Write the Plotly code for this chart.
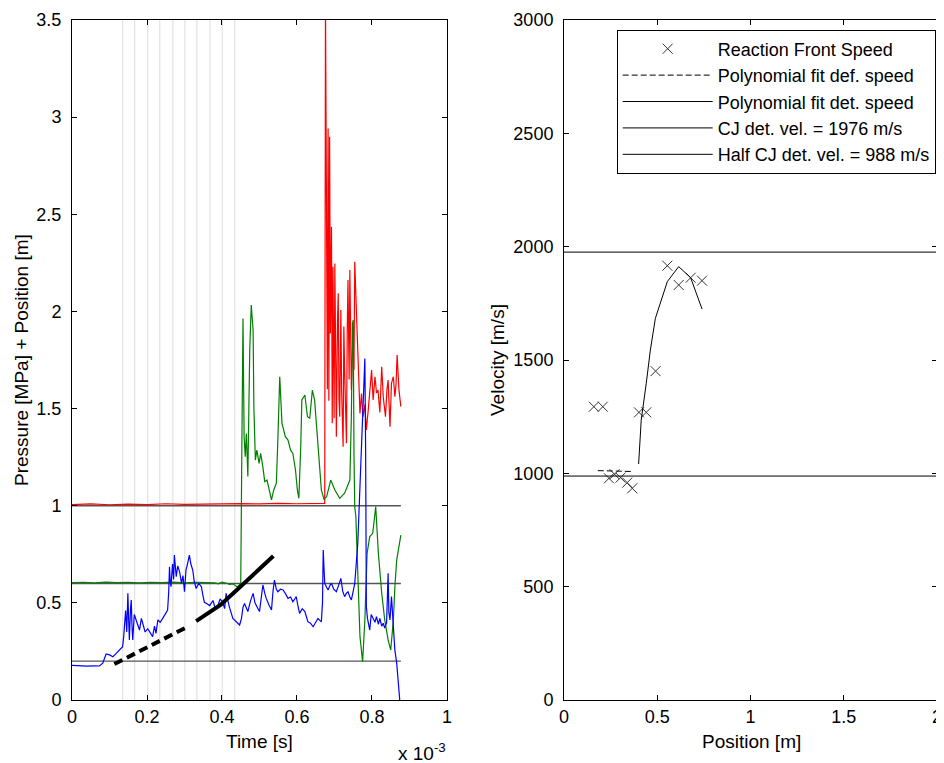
import plotly.graph_objects as go

# ---------------- data (left panel: time in units of 1e-3 s) ----------------
sensor_times = [0.135, 0.167, 0.202, 0.234, 0.269, 0.301, 0.333, 0.368, 0.401, 0.434]
offsets = [0.2, 0.6, 1.0]
t_end = 0.877

blue_t = [0, 0.02, 0.04, 0.06, 0.073, 0.082, 0.091, 0.100, 0.109, 0.118,
          0.126, 0.135, 0.138, 0.140, 0.143, 0.146, 0.149, 0.151, 0.153, 0.156,
          0.158, 0.160, 0.162, 0.166, 0.171, 0.176, 0.180, 0.185, 0.189, 0.195,
          0.202, 0.208, 0.215, 0.220, 0.224, 0.229, 0.235, 0.242, 0.248, 0.255,
          0.258, 0.260, 0.262, 0.264, 0.268, 0.271, 0.273, 0.275, 0.278, 0.282,
          0.287, 0.292, 0.296, 0.300, 0.304, 0.308, 0.313, 0.317, 0.322, 0.326,
          0.331, 0.338, 0.345, 0.349, 0.353, 0.360, 0.367, 0.376, 0.382, 0.389,
          0.395, 0.402, 0.407, 0.411, 0.416, 0.420, 0.429, 0.438, 0.447, 0.452,
          0.456, 0.460, 0.465, 0.469, 0.476, 0.483, 0.488, 0.492, 0.496, 0.500,
          0.505, 0.509, 0.514, 0.518, 0.525, 0.532, 0.536, 0.540, 0.545, 0.549,
          0.556, 0.563, 0.570, 0.576, 0.583, 0.589, 0.594, 0.598, 0.603, 0.607,
          0.614, 0.621, 0.625, 0.629, 0.636, 0.643, 0.650, 0.656, 0.661, 0.665,
          0.668, 0.670, 0.672, 0.674, 0.679, 0.683, 0.688, 0.692, 0.698, 0.705,
          0.711, 0.717, 0.722, 0.727, 0.732, 0.736, 0.741, 0.745, 0.750, 0.754,
          0.758, 0.762, 0.766, 0.770, 0.774, 0.778, 0.781, 0.783, 0.785, 0.788,
          0.791, 0.794, 0.798, 0.803, 0.808, 0.812, 0.817, 0.821, 0.826, 0.830,
          0.834, 0.839, 0.843, 0.845, 0.848, 0.852, 0.855, 0.857, 0.861, 0.866,
          0.870, 0.874]
blue_p = [0.178, 0.176, 0.174, 0.176, 0.175, 0.190, 0.237, 0.232, 0.223, 0.240,
          0.257, 0.274, 0.330, 0.395, 0.460, 0.350, 0.549, 0.420, 0.309, 0.470,
          0.515, 0.380, 0.309, 0.440, 0.412, 0.380, 0.360, 0.420, 0.395, 0.350,
          0.367, 0.345, 0.326, 0.380, 0.343, 0.412, 0.400, 0.420, 0.440, 0.463,
          0.560, 0.686, 0.610, 0.583, 0.700, 0.620, 0.746, 0.680, 0.635, 0.690,
          0.660, 0.600, 0.640, 0.557, 0.669, 0.700, 0.746, 0.700, 0.669, 0.610,
          0.574, 0.600, 0.583, 0.540, 0.503, 0.495, 0.486, 0.512, 0.470, 0.486,
          0.520, 0.503, 0.470, 0.549, 0.500, 0.477, 0.420, 0.403, 0.386, 0.420,
          0.477, 0.497, 0.470, 0.455, 0.510, 0.549, 0.500, 0.480, 0.470, 0.455,
          0.520, 0.592, 0.550, 0.523, 0.490, 0.463, 0.560, 0.617, 0.570, 0.557,
          0.570, 0.566, 0.545, 0.523, 0.530, 0.506, 0.520, 0.532, 0.480, 0.446,
          0.470, 0.455, 0.430, 0.403, 0.395, 0.377, 0.400, 0.420, 0.410, 0.403,
          0.500, 0.772, 0.680, 0.600, 0.580, 0.566, 0.590, 0.600, 0.570, 0.557,
          0.590, 0.626, 0.560, 0.532, 0.550, 0.557, 0.530, 0.515, 0.560, 0.600,
          0.700, 0.800, 1.000, 1.200, 1.400, 1.600, 1.758, 1.300, 0.480, 0.420,
          0.380, 0.360, 0.440, 0.420, 0.400, 0.429, 0.390, 0.420, 0.380, 0.395,
          0.370, 0.400, 0.652, 0.450, 0.412, 0.532, 0.420, 0.343, 0.257, 0.189,
          0.100, 0.000]

green_t = [0, 0.03, 0.06, 0.09, 0.12, 0.15, 0.18, 0.21, 0.24, 0.27,
           0.30, 0.33, 0.36, 0.38, 0.39, 0.40, 0.41, 0.42, 0.43, 0.44,
           0.445, 0.450, 0.453, 0.456, 0.459, 0.462, 0.465, 0.469, 0.474, 0.478,
           0.483, 0.485, 0.489, 0.493, 0.499, 0.503, 0.509, 0.514, 0.520, 0.525,
           0.532, 0.538, 0.545, 0.549, 0.554, 0.560, 0.569, 0.576, 0.583, 0.589,
           0.596, 0.601, 0.605, 0.610, 0.613, 0.621, 0.628, 0.634, 0.641, 0.647,
           0.656, 0.665, 0.672, 0.679, 0.690, 0.701, 0.714, 0.727, 0.741, 0.745,
           0.748, 0.750, 0.752, 0.754, 0.757, 0.762, 0.768, 0.775, 0.781, 0.787,
           0.794, 0.802, 0.810, 0.817, 0.826, 0.834, 0.843, 0.850, 0.857, 0.861,
           0.866, 0.877]
green_p = [0.604, 0.606, 0.603, 0.607, 0.604, 0.606, 0.603, 0.606, 0.604, 0.607,
           0.603, 0.606, 0.604, 0.603, 0.598, 0.607, 0.602, 0.595, 0.597, 0.583,
           0.590, 0.600, 1.300, 1.964, 1.355, 1.252, 1.372, 1.150, 1.801, 2.033,
           1.904, 1.509, 1.235, 1.286, 1.218, 1.269, 1.200, 1.124, 1.132, 1.081,
           1.030, 1.081, 1.116, 1.338, 1.664, 1.424, 1.355, 1.338, 1.286, 1.269,
           1.184, 1.081, 1.038, 1.304, 1.544, 1.570, 1.458, 1.450, 1.595, 1.544,
           1.304, 1.081, 1.034, 1.046, 1.132, 1.081, 1.038, 1.064, 1.132, 1.458,
           1.938, 1.956, 1.270, 0.995, 0.943, 0.700, 0.326, 0.197, 0.412, 0.755,
           0.841, 0.858, 0.995, 0.755, 0.549, 0.412, 0.309, 0.257, 0.412, 0.583,
           0.721, 0.849]

red_t = [0, 0.05, 0.10, 0.15, 0.20, 0.25, 0.30, 0.35, 0.40, 0.45,
         0.50, 0.55, 0.60, 0.65, 0.672, 0.674, 0.676, 0.678, 0.679, 0.681,
         0.683, 0.685, 0.687, 0.689, 0.692, 0.694, 0.696, 0.699, 0.701, 0.705,
         0.708, 0.710, 0.712, 0.714, 0.717, 0.719, 0.723, 0.725, 0.727, 0.732,
         0.734, 0.736, 0.739, 0.741, 0.745, 0.750, 0.752, 0.754, 0.759, 0.763,
         0.768, 0.772, 0.776, 0.781, 0.785, 0.790, 0.795, 0.799, 0.803, 0.808,
         0.812, 0.816, 0.821, 0.826, 0.830, 0.836, 0.840, 0.843, 0.848, 0.852,
         0.857, 0.861, 0.864, 0.867, 0.872, 0.877]
red_p = [1.006, 1.009, 1.005, 1.008, 1.006, 1.010, 1.007, 1.009, 1.008, 1.011,
         1.009, 1.012, 1.010, 1.013, 1.014, 1.012, 3.600, 2.590, 3.054, 1.600,
         2.942, 1.540, 2.899, 1.887, 2.436, 1.424, 2.230, 1.450, 2.247, 1.355,
         1.950, 2.093, 1.550, 1.458, 2.007, 1.600, 1.304, 1.922, 1.700, 1.321,
         1.900, 2.162, 1.650, 2.213, 1.595, 1.922, 1.700, 2.256, 1.973, 1.767,
         1.475, 1.578, 1.458, 1.520, 1.390, 1.492, 1.620, 1.698, 1.544, 1.664,
         1.580, 1.595, 1.480, 1.715, 1.561, 1.458, 1.600, 1.647, 1.407, 1.630,
         1.664, 1.561, 1.620, 1.776, 1.595, 1.510]

fit_def_t = [0.113, 0.207, 0.303]
fit_def_x = [0.185, 0.275, 0.372]
fit_det_t = [0.331, 0.396, 0.449, 0.537]
fit_det_x = [0.406, 0.489, 0.583, 0.741]

# ---------------- data (right panel) ----------------
front_pos = [0.160, 0.208, 0.241, 0.271, 0.303, 0.339, 0.366, 0.402, 0.441, 0.491,
             0.554, 0.615, 0.679, 0.740]
front_vel = [1294, 1294, 978, 996, 981, 959, 934, 1269, 1269, 1451,
             1916, 1831, 1863, 1850]
def_pos = [0.181, 0.275, 0.369]
def_vel = [1012, 1010, 1008]
det_pos = [0.400, 0.414, 0.441, 0.463, 0.490, 0.522, 0.554, 0.615, 0.679, 0.740]
det_vel = [1041, 1235, 1397, 1544, 1684, 1765, 1846, 1912, 1863, 1725]
cj_vel = 1976
half_cj_vel = 988
pos_range = [0, 2]

FONT = "Liberation Sans, Arial, sans-serif"
TICK_SIZE = 18
LABEL_SIZE = 19

fig = go.Figure()

# vertical sensor lines
vx, vy = [], []
for t in sensor_times:
    vx += [t, t, None]
    vy += [0, 3.5, None]
fig.add_trace(go.Scatter(x=vx, y=vy, mode="lines", line=dict(color="#e4e4e4", width=1.3),
                         showlegend=False, hoverinfo="skip", xaxis="x", yaxis="y"))

# horizontal offset lines
hx, hy = [], []
for o in offsets:
    hx += [0, t_end, None]
    hy += [o, o, None]
fig.add_trace(go.Scatter(x=hx, y=hy, mode="lines", line=dict(color="#555555", width=1.4),
                         showlegend=False, hoverinfo="skip", xaxis="x", yaxis="y"))

# signals
fig.add_trace(go.Scatter(x=red_t, y=red_p, mode="lines", line=dict(color="#ff0000", width=1.2),
                         showlegend=False, xaxis="x", yaxis="y"))
fig.add_trace(go.Scatter(x=green_t, y=green_p, mode="lines", line=dict(color="#008000", width=1.2),
                         showlegend=False, xaxis="x", yaxis="y"))
fig.add_trace(go.Scatter(x=blue_t, y=blue_p, mode="lines", line=dict(color="#0000ff", width=1.2),
                         showlegend=False, xaxis="x", yaxis="y"))

# polynomial fits (position vs time)
fig.add_trace(go.Scatter(x=fit_def_t, y=fit_def_x, mode="lines",
                         line=dict(color="black", width=4, dash="9px,5px"),
                         showlegend=False, xaxis="x", yaxis="y"))
fig.add_trace(go.Scatter(x=fit_det_t, y=fit_det_x, mode="lines", line=dict(color="black", width=4),
                         showlegend=False, xaxis="x", yaxis="y"))

# right panel
fig.add_trace(go.Scatter(x=front_pos, y=front_vel, mode="markers", name="Reaction Front Speed",
                         marker=dict(symbol="x-thin-open", size=10, color="#333333",
                                     line=dict(width=1, color="#333333")),
                         xaxis="x2", yaxis="y2"))
fig.add_trace(go.Scatter(x=def_pos, y=def_vel, mode="lines", name="Polynomial fit def. speed",
                         line=dict(color="black", width=1, dash="6px,3px"), xaxis="x2", yaxis="y2"))
fig.add_trace(go.Scatter(x=det_pos, y=det_vel, mode="lines", name="Polynomial fit det. speed",
                         line=dict(color="black", width=1), xaxis="x2", yaxis="y2"))
fig.add_trace(go.Scatter(x=pos_range, y=[cj_vel, cj_vel], mode="lines",
                         name="CJ det. vel. = %d m/s" % cj_vel,
                         line=dict(color="black", width=1), xaxis="x2", yaxis="y2"))
fig.add_trace(go.Scatter(x=pos_range, y=[half_cj_vel, half_cj_vel], mode="lines",
                         name="Half CJ det. vel. = %d m/s" % half_cj_vel,
                         line=dict(color="black", width=1), xaxis="x2", yaxis="y2"))

axis_common = dict(showline=True, linecolor="black", linewidth=1, mirror="ticks",
                   ticks="inside", ticklen=5, tickcolor="black", showgrid=False,
                   zeroline=False, automargin=False,
                   tickfont=dict(family=FONT, size=TICK_SIZE, color="black"))

# the page body keeps its default 8px margin, so the figure is 8px smaller
# and its margins are 8px smaller on the left/top
fig.update_layout(
    width=936, height=755,
    margin=dict(l=64, r=7, t=12, b=63, autoexpand=False),
    paper_bgcolor="white", plot_bgcolor="white",
    font=dict(family=FONT, size=TICK_SIZE, color="black"),
    xaxis=dict(domain=[0, 0.4335], range=[0, 1], tickvals=[0, 0.2, 0.4, 0.6, 0.8, 1],
               ticktext=["0", "0.2", "0.4", "0.6", "0.8", "1"], anchor="y", **axis_common),
    yaxis=dict(domain=[0, 1], range=[0, 3.5], tickvals=[0, 0.5, 1, 1.5, 2, 2.5, 3, 3.5],
               ticktext=["0", "0.5", "1", "1.5", "2", "2.5", "3", "3.5"], anchor="x",
               ticklabelstandoff=6, **axis_common),
    xaxis2=dict(domain=[0.5688, 1], range=[0, 2], tickvals=[0, 0.5, 1, 1.5, 2],
                ticktext=["0", "0.5", "1", "1.5", "2"], anchor="y2", **axis_common),
    yaxis2=dict(domain=[0, 1], range=[0, 3000], tickvals=[0, 500, 1000, 1500, 2000, 2500, 3000],
                anchor="x2", ticklabelstandoff=6, **axis_common),
    legend=dict(x=0.9985, y=0.986, xanchor="right", yanchor="top", bgcolor="white",
                bordercolor="black", borderwidth=1, itemwidth=90,
                font=dict(family=FONT, size=18, color="black")),
    showlegend=True,
)

def px2paper_x(px):
    return (px - 72) / 865.0

def py2paper_y(py):
    return (700 - py) / 680.0

def label(text, px, py, angle=0, anchor="center"):
    return dict(text=text, xref="paper", yref="paper", x=px2paper_x(px), y=py2paper_y(py),
                xanchor=anchor, yanchor="middle", textangle=angle, showarrow=False,
                font=dict(family=FONT, size=LABEL_SIZE, color="black"))

fig.update_layout(annotations=[
    label("Time [s]", 259, 741),
    label("x 10<sup>-3</sup>", 396, 752, anchor="left"),
    label("Pressure [MPa] + Position [m]", 21, 360, angle=-90),
    label("Position [m]", 751, 741),
    label("Velocity [m/s]", 497, 360, angle=-90),
])

fig.write_html("out.html", config={"displayModeBar": False, "responsive": False})
